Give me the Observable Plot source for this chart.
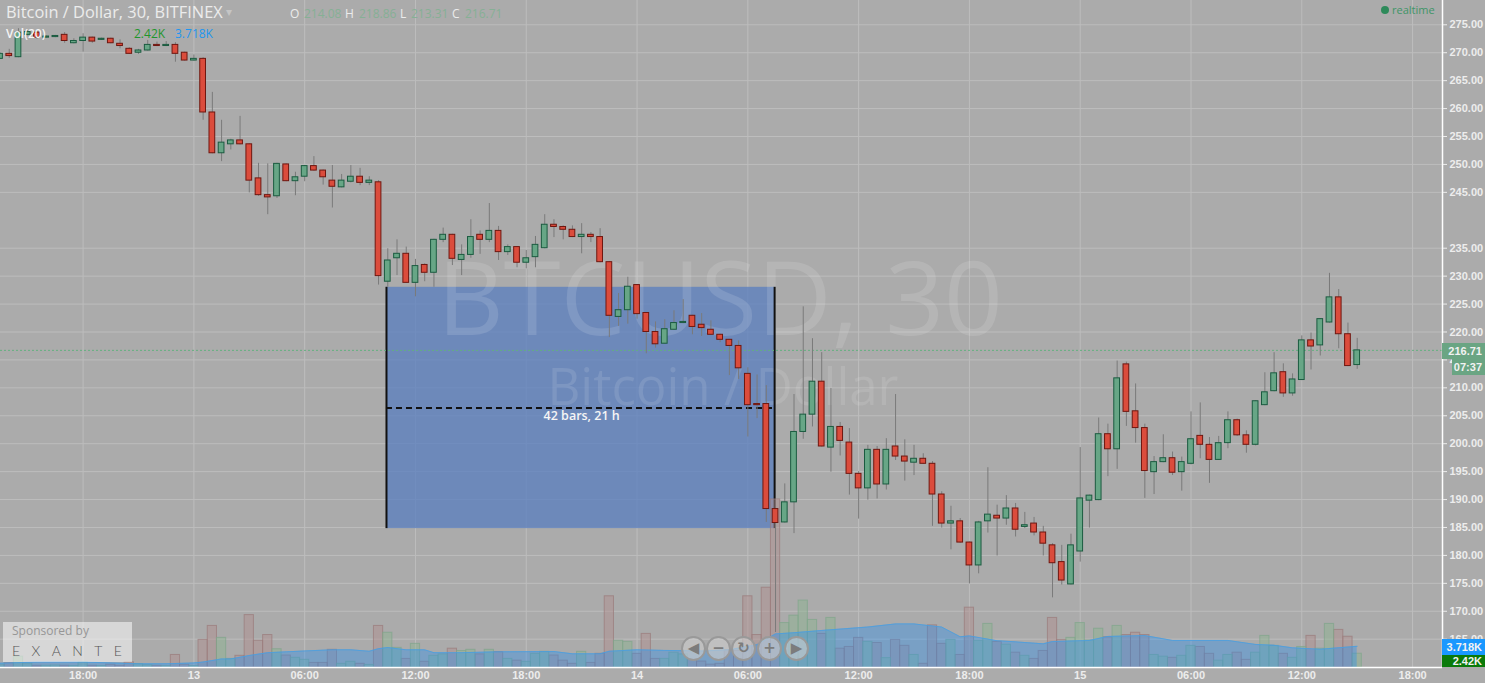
<!DOCTYPE html>
<html><head><meta charset="utf-8">
<script src="https://cdn.jsdelivr.net/npm/d3@7"></script>
<script src="https://cdn.jsdelivr.net/npm/@observablehq/plot@0.6"></script>
<style>
html,body{margin:0;padding:0;background:#ababab;overflow:hidden;width:1485px;height:683px}
#wrap{position:relative;width:1485px;height:683px;font-family:"Open Sans",sans-serif}
#wrap svg{position:absolute;left:0;top:0;display:block}
.o{position:absolute;white-space:pre;line-height:1}
.tag{position:absolute;left:1442px;width:43px;color:#f2f2f2;font:bold 11px "Liberation Sans",sans-serif;text-align:right;box-sizing:border-box;padding-right:3px}
.btn{position:absolute;top:636px;width:21px;height:21px;border-radius:50%;background:rgba(205,205,205,.62);border:2px solid #999;color:#7c7c7c;font:bold 15px "DejaVu Sans",sans-serif;text-align:center;line-height:21px}
</style></head><body><div id="wrap"></div>
<script>
const firstIndex = -9; // bar 0 is 18:00 on the 12th
const opens = [268.9,269.8,269.2,273.2,273.6,272.7,272.8,273.2,271.7,272.1,
272.7,272.3,272.5,271.6,270.7,270.0,270.4,271.4,271.2,271.4,
270.0,268.6,268.9,259.3,252.0,253.6,254.3,253.6,247.5,244.5,
244.3,250.0,247.0,247.8,249.7,248.9,247.1,245.9,246.9,247.8,
246.7,246.8,229.0,233.2,234.0,228.8,232.0,230.6,236.5,237.4,
232.9,233.8,237.4,236.5,238.1,234.3,235.2,232.4,233.4,235.0,
239.2,238.8,238.3,237.0,237.4,237.0,232.5,222.7,223.9,228.4,
223.4,220.0,217.9,220.4,221.6,222.9,221.3,220.4,219.5,218.6,
217.5,212.5,207.1,207.1,188.3,185.9,189.5,202.1,205.2,211.1,
199.3,203.0,200.2,194.6,192.0,198.9,192.7,199.5,197.7,196.6,
197.3,196.4,190.9,185.7,186.1,182.3,178.2,186.1,187.1,186.6,
188.4,185.1,185.7,184.1,181.8,178.8,174.8,180.7,189.8,189.9,
201.7,199.0,214.2,205.8,202.8,194.9,196.7,197.4,194.9,196.4,
201.4,199.8,197.1,200.1,204.2,201.5,199.8,206.9,209.4,212.8,
209.0,211.4,218.5,217.6,221.7,226.2,219.6,214.08];
const closes = [269.8,269.4,273.6,273.7,272.7,272.9,273.0,272.1,272.1,272.7,
272.0,272.5,271.7,271.2,269.8,270.4,271.4,271.2,271.4,269.8,
268.6,268.9,259.3,252.0,253.9,254.3,253.6,247.1,244.5,244.1,
250.1,247.0,247.7,249.7,248.9,247.7,246.0,247.1,247.8,246.7,
247.1,230.0,232.8,234.0,228.8,231.8,230.6,236.5,237.4,233.1,
233.8,237.0,236.5,238.1,234.3,235.2,232.4,233.2,235.6,239.2,
238.8,238.3,237.0,237.4,237.0,232.5,222.9,223.9,228.1,223.2,
220.0,217.8,220.5,221.6,221.8,220.9,220.7,219.5,218.6,217.5,
213.5,206.9,206.9,188.3,185.8,189.5,202.1,205.2,211.1,199.5,
203.0,200.5,194.6,192.0,198.9,192.7,198.9,197.7,196.8,197.3,
196.4,190.9,185.7,186.1,182.3,178.2,185.9,187.3,186.6,188.4,
184.6,185.4,184.1,182.1,178.6,175.5,181.8,190.2,190.7,201.7,
199.0,211.7,205.7,202.8,195.1,196.7,197.4,194.8,196.7,200.8,
199.8,197.1,200.1,204.2,201.5,199.8,207.6,209.2,212.6,209.0,
211.5,218.5,217.4,222.3,226.2,219.6,213.9,216.71];
const highs = [270.0,270.6,274.3,274.0,274.0,273.0,273.1,273.6,272.5,273.4,
272.8,272.6,272.6,272.3,270.9,270.6,272.2,271.9,272.0,271.8,
270.1,269.6,269.1,262.9,257.9,254.5,258.6,253.7,250.2,250.1,
250.2,250.1,248.6,249.8,251.4,249.0,249.8,248.2,249.8,249.3,
247.8,247.1,234.9,236.5,235.2,233.0,232.2,236.6,238.6,237.5,
235.6,240.1,238.1,243.0,238.9,235.6,235.3,234.6,237.1,241.0,
240.1,239.0,239.0,239.4,237.8,238.5,232.6,226.9,229.8,228.5,
223.5,221.8,222.2,223.8,225.8,223.0,223.3,222.0,219.6,218.7,
218.4,213.6,212.3,210.4,188.4,192.8,208.8,224.5,218.8,216.3,
209.9,203.8,202.7,195.0,199.7,199.5,200.9,208.8,200.7,199.7,
198.2,196.8,191.4,188.8,186.6,182.4,186.1,195.7,189.0,190.7,
189.3,187.7,186.8,185.2,182.1,181.8,183.8,199.3,190.8,204.6,
203.5,214.8,214.6,210.7,203.5,197.7,201.6,198.5,197.6,205.7,
207.3,201.1,201.3,205.7,204.4,202.3,207.7,212.7,216.3,214.3,
212.5,219.3,219.8,222.4,230.5,227.6,221.6,218.86];
const lows = [268.8,269.0,269.1,273.0,272.4,272.6,272.7,271.7,271.6,270.1,
271.7,272.2,271.6,270.7,269.7,269.7,270.3,271.1,271.1,268.3,
268.5,268.5,257.9,251.9,250.5,252.6,253.5,244.9,244.3,241.0,
243.9,246.9,244.4,246.9,248.8,246.3,242.2,245.8,246.7,246.2,
246.2,228.4,228.0,230.1,228.7,226.3,229.0,228.0,236.0,231.9,
230.1,233.2,233.9,236.0,232.8,233.7,231.5,231.3,231.5,234.9,
236.9,236.5,236.9,234.0,236.0,232.4,219.0,221.0,221.4,222.3,
216.1,217.1,217.8,220.3,221.5,219.5,219.2,219.4,218.1,212.2,
211.5,201.2,204.5,185.9,166.2,185.8,183.9,200.8,203.0,199.4,
194.9,197.8,190.8,186.5,189.9,190.1,191.7,197.0,193.3,194.3,
196.3,185.2,184.9,181.0,182.2,174.9,176.7,184.0,179.9,185.4,
183.3,184.8,183.5,179.9,172.4,174.7,174.7,178.8,184.9,189.8,
194.1,195.4,203.1,200.1,190.2,190.9,196.6,194.3,191.5,196.2,
197.3,192.9,197.0,199.1,201.3,198.3,199.6,206.8,209.3,208.3,
208.5,211.3,213.2,215.7,221.6,217.0,213.8,213.31];
const volumes = [.5,.75,1.9,.7,.3,.3,.35,.3,.25,.9,
.3,.25,.5,.3,.9,.6,.4,.3,.25,2.2,
.5,.25,4.85,7.3,5.2,1.5,2.05,9.2,4.7,5.7,
3.2,2.1,1.7,1.35,.8,.8,3.1,.65,1,.65,
.45,7.3,6.1,3.45,1.5,4.15,1,2.05,2.3,3.3,
2.9,3.1,2.3,3.1,2.7,1.5,1.2,1,2.4,2.75,
2.1,1.2,.65,2.75,.8,2.4,12.5,4.7,4.5,2.4,
5.9,1.5,1.5,2.6,2.3,1.35,1.05,.5,.65,3,
2.9,12.5,5.7,14,29.5,7.8,9.1,11.75,8.35,5.9,
8.7,3.3,3.6,5.2,4.5,4.3,1.65,4.85,3.8,2.2,
.65,7.4,4.15,4.85,2.2,10.5,4.7,7.65,4.5,4,
2.6,2.05,1.5,2.9,8.7,4.85,5.2,7.8,4.75,6.8,
5.3,7.3,5.7,6.1,5.7,2.2,1.9,1.7,2.05,3.8,
3.6,2.4,1.2,2.2,2.6,1.35,2.6,5.55,3.8,2.4,
1.7,3.6,5.55,3.3,7.65,6.6,5.4,2.42];
const maIndex = [-9,-5,0,6,9,12,13,15,16,18,20,24,27,29,31,32,33,35,37,38,41,45,
51,53,56,57,60,63,67,70,73,75,77,80,85,88,90,93,95,96,99,101,104,105,109,111,115,118,124,127,129,131,134,138];
const maValue = [.75,.95,.95,.65,.65,.8,.95,1.5,1.5,2.1,2.6,2.9,3.1,3.1,2.85,3.3,3.5,3.1,3.1,2.6,2.6,2.75,
2.8,2.4,2.4,2.85,3.1,3,2.9,3.1,4,5.9,6.1,6.5,7.1,7.65,7.65,7.1,5.4,5.55,4.7,4.5,4.15,4.55,4.75,5.45,5.6,4.75,4.75,4.05,3.9,3.45,3.2,3.718];
const yTicks = [275,270,265,260,255,250,245,235,230,225,220,215,210,205,200,195,190,185,180,175,170,165];
const xTickBars = [0,12,24,36,48,60,72,84,96,108,120,132,144];
const xTickLabels = ["18:00","13","06:00","12:00","18:00","14","06:00","12:00","18:00","15","06:00","12:00","18:00"];
const lastPrice = 216.71;
const boxStart = 32.86, boxEnd = 74.9, boxHigh = 228, boxLow = 184.8, boxMid = 206.4;
const volumeBase = 159.93, priceUnitsPerK = 1.02;

const bars = opens.map((o,k)=>({i:firstIndex+k,o,c:closes[k],h:highs[k],l:lows[k],v:volumes[k],up:closes[k]>=o}));
const ma = maIndex.map((i,k)=>({i,v:maValue[k]}));
const volY = v => volumeBase + v*priceUnitsPerK;
const halfBody = 0.31;
const grid = "#bdbdbd";

const plot = Plot.plot({
  width:1485,height:683,marginLeft:0,marginRight:43,marginTop:0,marginBottom:16,
  style:{background:"#ababab",color:"#ededed",fontFamily:'"Liberation Sans",sans-serif',overflow:"hidden"},
  x:{type:"linear",domain:[-8.947,147.24],axis:null},
  y:{type:"linear",domain:[159.93,279.35],axis:null},
  marks:[
    Plot.gridY(yTicks,{stroke:grid,strokeOpacity:1}),
    Plot.gridX(xTickBars,{stroke:grid,strokeOpacity:1}),
    Plot.rect([0],{x1:()=>boxStart,x2:()=>boxEnd,y1:()=>boxLow,y2:()=>boxHigh,fill:"rgb(85,124,191)",fillOpacity:.72}),
    Plot.text(["BTCUSD, 30"],{x:()=>69,y:()=>225.3,fontSize:103,fill:"#fff",fillOpacity:.13,fontFamily:'"Open Sans",sans-serif',textAnchor:"middle"}),
    Plot.text(["Bitcoin / Dollar"],{x:()=>69.3,y:()=>209.9,fontSize:51,fill:"#fff",fillOpacity:.11,fontFamily:'"Open Sans",sans-serif',textAnchor:"middle"}),
    Plot.ruleX([boxStart,boxEnd],{y1:boxLow,y2:boxHigh,stroke:"#111",strokeWidth:2}),
    Plot.ruleY([boxMid],{x1:boxStart,x2:boxEnd,stroke:"#111",strokeWidth:2,strokeDasharray:"6,4"}),
    Plot.text(["42 bars, 21 h"],{x:()=>54,y:()=>205,fill:"#f5f5f5",fontSize:12.5,fontWeight:600,fontFamily:'"Open Sans",sans-serif'}),
    Plot.ruleY([lastPrice],{stroke:"#63b07f",strokeWidth:1,strokeDasharray:"2,2"}),
    Plot.rect(bars.filter(d=>!d.up),{x1:d=>d.i-.5,x2:d=>d.i+.5,y1:volumeBase,y2:d=>volY(d.v),fill:"#b08f8f",fillOpacity:.5,stroke:"#9a7b7b",strokeOpacity:.7}),
    Plot.rect(bars.filter(d=>d.up),{x1:d=>d.i-.5,x2:d=>d.i+.5,y1:volumeBase,y2:d=>volY(d.v),fill:"#8db391",fillOpacity:.5,stroke:"#7fa58a",strokeOpacity:.7}),
    Plot.areaY(ma,{x:"i",y1:volumeBase,y2:d=>volY(d.v),fill:"rgb(33,140,243)",fillOpacity:.36}),
    Plot.line(ma,{x:"i",y:d=>volY(d.v),stroke:"#4a9fe0",strokeWidth:1,strokeOpacity:.8}),
    Plot.ruleX(bars,{x:"i",y1:"l",y2:"h",stroke:"#7a7a7a",strokeWidth:1}),
    Plot.rect(bars.filter(d=>!d.up),{x1:d=>d.i-halfBody,x2:d=>d.i+halfBody,y1:"o",y2:"c",fill:"#db4c3c",stroke:"#6f1710",strokeWidth:1}),
    Plot.rect(bars.filter(d=>d.up),{x1:d=>d.i-halfBody,x2:d=>d.i+halfBody,y1:"o",y2:"c",fill:"#67a686",stroke:"#1b5b40",strokeWidth:1}),
    Plot.ruleY([volumeBase],{stroke:"#fff",strokeWidth:1.5}),
    Plot.ruleX([147.24],{stroke:"#fff",strokeWidth:1.5}),
    Plot.axisY(yTicks,{anchor:"right",label:null,tickSize:4,tickPadding:3,tickFormat:d=>d.toFixed(2),color:"#ededed",fontSize:11,fontWeight:"bold"}),
    Plot.axisX(xTickBars,{anchor:"bottom",label:null,tickSize:0,tickPadding:4,tickFormat:d=>xTickLabels[xTickBars.indexOf(d)],color:"#ededed",fontSize:11,fontWeight:"bold"})
  ]
});
const wrap = document.getElementById("wrap");
wrap.appendChild(plot);
function o(txt,l,t,css){const e=document.createElement("div");e.className="o";e.textContent=txt;e.style.cssText=`left:${l}px;top:${t}px;${css}`;wrap.appendChild(e);return e}
function tag(txt,l,t,h,bg,fg){const e=document.createElement("div");e.className="tag";e.textContent=txt;e.style.cssText=`left:${l}px;top:${t}px;height:${h}px;line-height:${h}px;width:${1485-l}px;background:${bg};${fg?`color:${fg};`:""}`;wrap.appendChild(e)}
o("Bitcoin / Dollar, 30, BITFINEX",6,4,"font-size:16.4px;color:#ececec");
o("▾",226,6,"font-size:12px;color:#c5c5c5");
const valc="#86b095";
[["O",290,"#ececec"],["214.08",304,valc],["H",345,"#ececec"],["218.86",359,valc],["L",400,"#ececec"],["213.31",411,valc],["C",452,"#ececec"],["216.71",465,valc]]
 .forEach(([t,l,c])=>o(t,l,8,`font-size:12px;color:${c}`));
o("Vol(20)",6,28,"font-size:12px;color:#f5f5f5;font-weight:600");
o("2.42K",134,28,"font-size:12px;color:#1f962c");
o("3.718K",175,28,"font-size:12px;color:#1e96f0");
o("realtime",1392,4,"font-size:11px;color:#3f9568");
o("",1381,6,"width:8px;height:8px;border-radius:50%;background:#2d8a5a");
tag("216.71",1442,343,16,"#6aa583");
tag("07:37",1452,359,16,"#6aa583");
tag("3.718K",1442,639,16,"#1a98ff");
tag("2.42K",1442,655,12,"#0a7a0a");
o("",3,622,"width:129px;height:40px;background:rgba(255,255,255,.52)");
o("Sponsored by",12,625,"font-size:12px;color:#969696");
o("EXANTE",12,644,"font-size:14px;font-weight:300;color:#555;letter-spacing:11.4px;font-family:'Lato',sans-serif");
[["◀",681],["−",706],["↻",731],["+",757],["▶",784]].forEach(([t,l])=>{const e=document.createElement("div");e.className="btn";e.textContent=t;e.style.left=l+"px";wrap.appendChild(e)});
</script></body></html>
